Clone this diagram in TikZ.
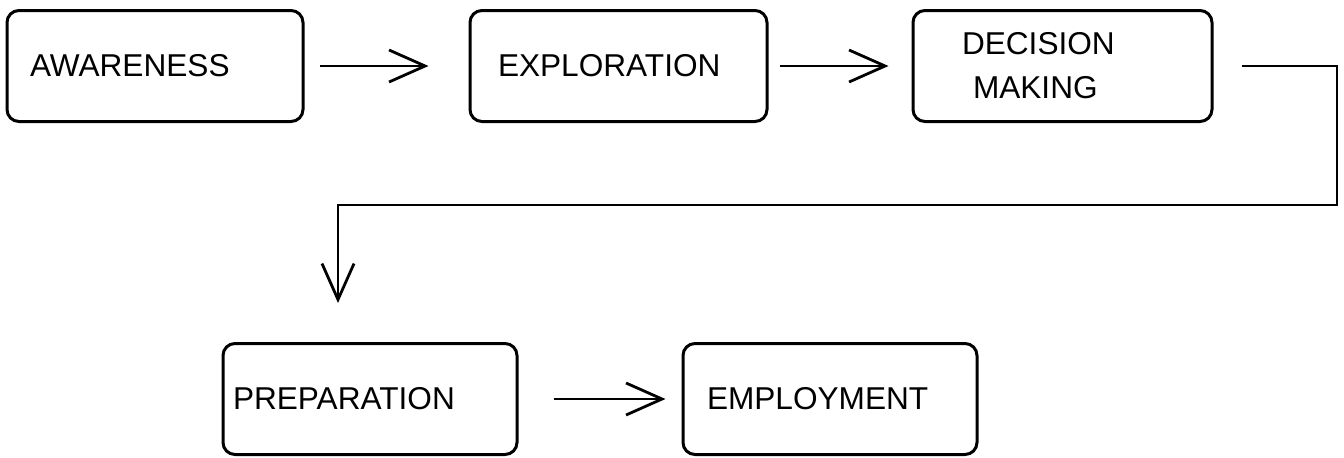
\documentclass[tikz,border=0pt]{standalone}
\usepackage{fontspec}
\setmainfont{Liberation Sans}
\usetikzlibrary{arrows.meta}
\tikzset{
  stage/.style 2 args={draw, line width=1.5pt, rounded corners=6pt, minimum height=55.5pt, text width=#1, inner xsep=#2, align=left, font=\fontsize{15.8}{22}\selectfont},
  flow/.style={line width=1.4pt, -{Straight Barb[length=18pt,width=16pt,line width=1.4pt]}}
}
\begin{document}
\begin{tikzpicture}[x=0.5pt, y=-0.5pt]
\useasboundingbox (0,0) rectangle (1344,457);
\node[stage={125pt}{11.5pt}] (aware) at (155,66) {AWARENESS};
\node[stage={120.5pt}{14pt}] (explore) at (618.5,66) {EXPLORATION};
\node[stage={100.5pt}{24.5pt}] (decide) at (1062.5,66) {DECISION\\\hspace*{5.5pt}MAKING};
\node[stage={137pt}{5pt}] (prep) at (370,399) {PREPARATION};
\node[stage={123pt}{12pt}] (employ) at (830,399) {EMPLOYMENT};
\coordinate (turnR) at (1337,205);
\coordinate (turnL) at (338,205);
\draw[flow, shorten <=7.5pt, shorten >=20pt] (aware) -- (explore);
\draw[flow, shorten <=5.5pt, shorten >=11.5pt] (explore) -- (decide);
\draw[flow, shorten <=14pt, shorten >=19.5pt] (decide.east) -- (turnR |- decide.east) -- (turnR) -- (turnL) -- (turnL |- prep.north);
\draw[flow, shorten <=17.5pt, shorten >=8pt] (prep) -- (employ);
\end{tikzpicture}
\end{document}
